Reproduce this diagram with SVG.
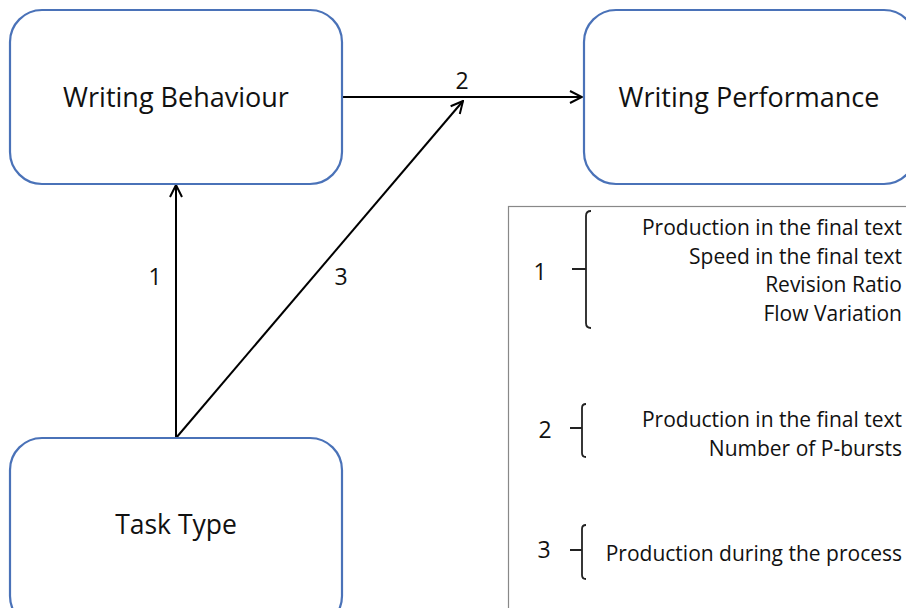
<svg xmlns="http://www.w3.org/2000/svg" width="906" height="608" viewBox="0 0 906 608">
<defs>
<marker id="ah" viewBox="0 0 14 14" refX="13" refY="7" markerWidth="14" markerHeight="14" markerUnits="userSpaceOnUse" orient="auto">
<path d="M1,1 L13,7 L1,13" fill="none" stroke="#000" stroke-width="2"/>
</marker>
<style>
.node{fill:#fff;stroke:#4a72b8;stroke-width:2.2}
.t{font-family:"Open Sans","Noto Sans",sans-serif;fill:#111}
.big{font-size:27px}
.tt{font-size:26.5px}
.lab{font-size:23px}
.leg{font-size:21px;text-anchor:end}
.br{fill:none;stroke:#222;stroke-width:1.8}
.c{stroke:#000;stroke-width:2;fill:none;marker-end:url(#ah)}
</style>
</defs>
<rect width="906" height="608" fill="#fff"/>
<g id="legend">
<rect x="508.5" y="206.5" width="420" height="430" fill="#fff" stroke="#888" stroke-width="1.2"/>
<text class="t lab" x="540" y="280" text-anchor="middle">1</text>
<path class="br" d="M591,211 Q586,211 586,216 L586,323 Q586,328 591,328 M572,269 L586,269"/>
<text class="t leg" x="902" y="235">Production in the final text</text>
<text class="t leg" x="902" y="264">Speed in the final text</text>
<text class="t leg" x="902" y="292">Revision Ratio</text>
<text class="t leg" x="902" y="321">Flow Variation</text>
<text class="t lab" x="545" y="438" text-anchor="middle">2</text>
<path class="br" d="M586,404 Q582,404 582,408 L582,453 Q582,457 586,457 M570,428 L582,428"/>
<text class="t leg" x="902" y="427">Production in the final text</text>
<text class="t leg" x="902" y="456">Number of P-bursts</text>
<text class="t lab" x="544" y="558" text-anchor="middle">3</text>
<path class="br" d="M586,525 Q582,525 582,529 L582,575 Q582,579 586,579 M570,550 L582,550"/>
<text class="t leg" x="902" y="561">Production during the process</text>
</g>
<g id="connectors">
<line class="c" x1="176" y1="438" x2="176" y2="185"/>
<line class="c" x1="342" y1="97" x2="582" y2="97"/>
<line class="c" x1="176" y1="438" x2="463" y2="101"/>
<text class="t lab" x="155" y="285" text-anchor="middle">1</text>
<text class="t lab" x="341" y="285" text-anchor="middle">3</text>
<text class="t lab" x="462" y="89" text-anchor="middle">2</text>
</g>
<g id="writing-behaviour">
<rect class="node" x="10" y="10" width="332" height="174" rx="32"/>
<text class="t big" x="176" y="107" text-anchor="middle">Writing Behaviour</text>
</g>
<g id="writing-performance">
<rect class="node" x="584" y="10" width="332" height="174" rx="32"/>
<text class="t big" x="749" y="107" text-anchor="middle">Writing Performance</text>
</g>
<g id="task-type">
<rect class="node" x="10" y="438" width="332" height="190" rx="32"/>
<text class="t tt" x="176" y="534" text-anchor="middle">Task Type</text>
</g>
</svg>
